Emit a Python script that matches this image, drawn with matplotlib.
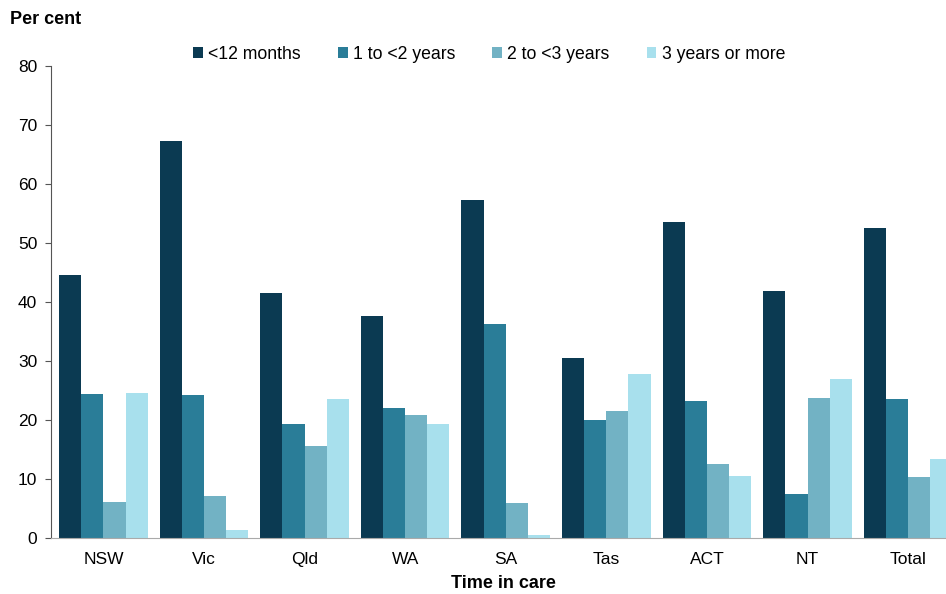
import numpy as np
import matplotlib.pyplot as plt

plt.rcParams['font.family'] = ['Liberation Sans', 'DejaVu Sans']

states = ['NSW', 'Vic', 'Qld', 'WA', 'SA', 'Tas', 'ACT', 'NT', 'Total']
under_12m = [44.5, 67.3, 41.5, 37.6, 57.3, 30.5, 53.6, 41.8, 52.5]
one_to_2y = [24.5, 24.2, 19.3, 22.1, 36.2, 20.1, 23.2, 7.5, 23.6]
two_to_3y = [6.2, 7.1, 15.6, 20.8, 5.9, 21.5, 12.6, 23.7, 10.3]
three_plus = [24.6, 1.3, 23.5, 19.3, 0.5, 27.8, 10.5, 26.9, 13.4]

labels = ['<12 months', '1 to <2 years', '2 to <3 years', '3 years or more']
colors = ['#0b3a52', '#2a7d98', '#72b2c4', '#a8e0ed']
series = [under_12m, one_to_2y, two_to_3y, three_plus]

fig = plt.figure(figsize=(9.46, 5.94), dpi=100)
ax = fig.add_axes([0.054, 0.094, 0.957, 0.795])

x = np.arange(len(states))
w = 0.22
for i, vals in enumerate(series):
    ax.bar(x + (i - 1.5) * w + 0.02, vals, w, color=colors[i], label=labels[i])

ax.set_xlim(-0.5, len(states) - 0.5)
ax.set_ylim(0, 80)
ax.set_yticks(range(0, 81, 10))
ax.set_xticks(x + 0.02)
ax.set_xticklabels(states)
ax.tick_params(axis='x', length=0, labelsize=12.5, pad=10)
ax.tick_params(axis='y', length=4, labelsize=12.5, color='#555555', pad=6)
for s in ['top', 'right']:
    ax.spines[s].set_visible(False)
ax.spines['left'].set_color('#555555')
ax.spines['bottom'].set_color('#aaaaaa')

ax.set_xlabel('Time in care', fontsize=13, fontweight='bold', labelpad=6)
fig.text(0.011, 0.982, 'Per cent', fontsize=13, fontweight='bold', va='top', ha='left')

leg = fig.legend(loc='center', bbox_to_anchor=(0.517, 0.909), ncol=4, frameon=False,
                 fontsize=12.7, handlelength=0.55, handleheight=0.55, handletextpad=0.3,
                 columnspacing=2.1)

fig.savefig('out.png', dpi=100)
